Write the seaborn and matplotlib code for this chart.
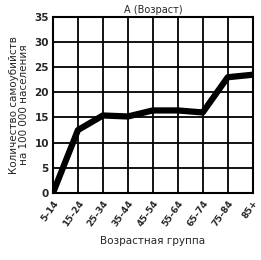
import pandas as pd
import seaborn as sns
import matplotlib.pyplot as plt

# Data
age_groups = ['5–14', '15–24', '25–34', '35–44', '45–54', '55–64', '65–74', '75–84', '85+']
suicides = [0, 12.5, 15.4, 15.2, 16.4, 16.4, 16.0, 23.0, 23.5]
y_ticks = [0, 5, 10, 15, 20, 25, 30, 35]

df = pd.DataFrame({'age': age_groups, 'rate': suicides})

sns.set_style("white")
plt.rcParams['font.family'] = ['DejaVu Sans']

fig = plt.figure(figsize=(2.61, 2.60), dpi=100)
ax = fig.add_axes([0.203, 0.258, 0.765, 0.677])

sns.lineplot(data=df, x='age', y='rate', color='black', linewidth=4.5,
             sort=False, ax=ax)

ax.set_xlim(0, len(age_groups) - 1)
ax.set_ylim(0, 35)
ax.set_yticks(y_ticks)
ax.set_xticks(range(len(age_groups)))
ax.set_xticklabels(age_groups, rotation=55, ha='right', rotation_mode='anchor',
                   fontsize=6.5, fontweight='bold')
ax.tick_params(axis='y', labelsize=7.5, length=0, pad=3)
ax.tick_params(axis='x', length=0, pad=4)
for lbl in ax.get_yticklabels():
    lbl.set_fontweight('bold')

ax.grid(True, color='black', linewidth=1.3)
ax.set_axisbelow(True)
for s in ax.spines.values():
    s.set_color('black')
    s.set_linewidth(1.5)

ax.set_title('А (Возраст)', fontsize=7, pad=3)
ax.set_xlabel('Возрастная группа', fontsize=7.5, labelpad=6)
ax.set_ylabel('Количество самоубийств\nна 100 000 населения', fontsize=7.5,
              labelpad=4, linespacing=0.95)

fig.savefig('out.png', dpi=100)
